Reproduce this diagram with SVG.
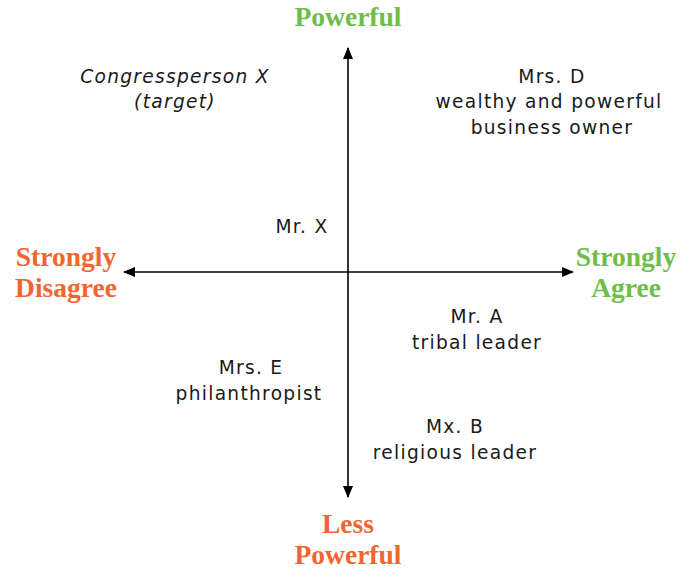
<svg xmlns="http://www.w3.org/2000/svg" width="691" height="571" viewBox="0 0 691 571">
<style>
.ttl{font-family:"Liberation Serif","Times New Roman",serif;font-weight:bold;font-size:27.5px;text-anchor:middle}
.g{fill:#6dbe4b}
.o{fill:#f26532}
.lbl{font-family:"DejaVu Sans","Noto Sans",sans-serif;font-size:18.6px;letter-spacing:1.3px;fill:#1a1a1a;text-anchor:middle}
.it{font-style:italic}
.ax{stroke:#000;stroke-width:1.6;fill:none}
</style>
<defs>
<marker id="ah" viewBox="0 0 12 10" refX="11" refY="5" markerWidth="12" markerHeight="10" markerUnits="userSpaceOnUse" orient="auto">
<path d="M0,0 L12,5 L0,10 Z" fill="#000"/>
</marker>
</defs>
<rect width="691" height="571" fill="#fff"/>
<g id="connectors">
<line class="ax" x1="348" y1="272" x2="348" y2="48" marker-end="url(#ah)"/>
<line class="ax" x1="348" y1="272" x2="348" y2="497" marker-end="url(#ah)"/>
<line class="ax" x1="348" y1="272" x2="124" y2="272" marker-end="url(#ah)"/>
<line class="ax" x1="348" y1="272" x2="573" y2="272" marker-end="url(#ah)"/>
</g>
<g id="powerful"><text class="ttl g" x="348" y="26">Powerful</text></g>
<g id="less-powerful"><text class="ttl o" x="348" y="533">Less</text><text class="ttl o" x="348" y="564">Powerful</text></g>
<g id="strongly-disagree"><text class="ttl o" x="66" y="266">Strongly</text><text class="ttl o" x="66" y="297">Disagree</text></g>
<g id="strongly-agree"><text class="ttl g" x="626" y="266">Strongly</text><text class="ttl g" x="626" y="297">Agree</text></g>
<g id="congressperson-x"><text class="lbl it" x="175" y="83">Congressperson X</text><text class="lbl it" x="175" y="108">(target)</text></g>
<g id="mrs-d"><text class="lbl" x="552" y="83">Mrs. D</text><text class="lbl" x="549" y="108">wealthy and powerful</text><text class="lbl" x="552" y="134">business owner</text></g>
<g id="mr-x"><text class="lbl" x="302" y="233">Mr. X</text></g>
<g id="mr-a"><text class="lbl" x="477" y="323">Mr. A</text><text class="lbl" x="477" y="349">tribal leader</text></g>
<g id="mrs-e"><text class="lbl" x="251" y="374">Mrs. E</text><text class="lbl" x="249" y="400">philanthropist</text></g>
<g id="mx-b"><text class="lbl" x="455" y="433">Mx. B</text><text class="lbl" x="455" y="459">religious leader</text></g>
</svg>
